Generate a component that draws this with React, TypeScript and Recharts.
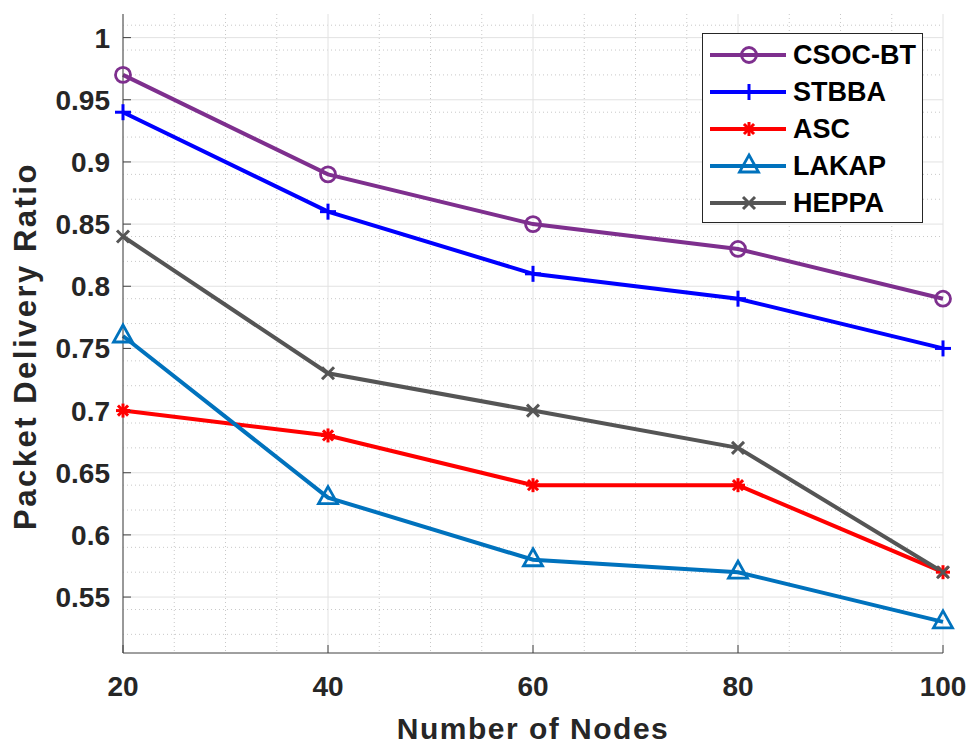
import React from "react";
import { LineChart, Line, XAxis, YAxis, CartesianGrid } from "recharts";

const nodes = [20, 40, 60, 80, 100];
const csocBt = [0.97, 0.89, 0.85, 0.83, 0.79];
const stbba = [0.94, 0.86, 0.81, 0.79, 0.75];
const asc = [0.7, 0.68, 0.64, 0.64, 0.57];
const lakap = [0.76, 0.63, 0.58, 0.57, 0.53];
const heppa = [0.84, 0.73, 0.7, 0.67, 0.57];

const xTicks = [20, 40, 60, 80, 100];
const yTicks = [0.55, 0.6, 0.65, 0.7, 0.75, 0.8, 0.85, 0.9, 0.95, 1];
const xMinor = [25, 30, 35, 45, 50, 55, 65, 70, 75, 85, 90, 95];
const yMinor = [
  0.51, 0.52, 0.53, 0.54, 0.56, 0.57, 0.58, 0.59, 0.61, 0.62, 0.63, 0.64,
  0.66, 0.67, 0.68, 0.69, 0.71, 0.72, 0.73, 0.74, 0.76, 0.77, 0.78, 0.79,
  0.81, 0.82, 0.83, 0.84, 0.86, 0.87, 0.88, 0.89, 0.91, 0.92, 0.93, 0.94,
  0.96, 0.97, 0.98, 0.99, 1.01,
];

const series = [
  { key: "csoc", name: "CSOC-BT", values: csocBt, color: "#7E2F8E", shape: "circle" },
  { key: "stbba", name: "STBBA", values: stbba, color: "#0000FF", shape: "plus" },
  { key: "asc", name: "ASC", values: asc, color: "#FF0000", shape: "star" },
  { key: "lakap", name: "LAKAP", values: lakap, color: "#0072BD", shape: "triangle" },
  { key: "heppa", name: "HEPPA", values: heppa, color: "#555555", shape: "cross" },
];

const data = nodes.map((n, i) => {
  const row: Record<string, number> = { n };
  series.forEach((s) => (row[s.key] = s.values[i]));
  return row;
});

const font = "'Liberation Sans', Arial, Helvetica, sans-serif";
const axisColor = "#404040";
const tickStyle = { fontSize: 28, fontWeight: 700, fill: "#262626", fontFamily: font };

function Marker({ cx, cy, color, shape }: { cx: number; cy: number; color: string; shape: string }) {
  const sw = 2.8;
  if (shape === "circle") {
    return <circle cx={cx} cy={cy} r={7.5} fill="none" stroke={color} strokeWidth={sw} />;
  }
  if (shape === "plus") {
    const s = 8;
    return (
      <g stroke={color} strokeWidth={3}>
        <line x1={cx - s} y1={cy} x2={cx + s} y2={cy} />
        <line x1={cx} y1={cy - s} x2={cx} y2={cy + s} />
      </g>
    );
  }
  if (shape === "star") {
    const s = 7;
    const d = s * 0.72;
    return (
      <g stroke={color} strokeWidth={3}>
        <line x1={cx - s} y1={cy} x2={cx + s} y2={cy} />
        <line x1={cx} y1={cy - s} x2={cx} y2={cy + s} />
        <line x1={cx - d} y1={cy - d} x2={cx + d} y2={cy + d} />
        <line x1={cx - d} y1={cy + d} x2={cx + d} y2={cy - d} />
      </g>
    );
  }
  if (shape === "triangle") {
    return (
      <polygon
        points={`${cx},${cy - 11} ${cx + 9.5},${cy + 6} ${cx - 9.5},${cy + 6}`}
        fill="none"
        stroke={color}
        strokeWidth={sw}
      />
    );
  }
  const s = 6;
  return (
    <g stroke={color} strokeWidth={3}>
      <line x1={cx - s} y1={cy - s} x2={cx + s} y2={cy + s} />
      <line x1={cx - s} y1={cy + s} x2={cx + s} y2={cy - s} />
    </g>
  );
}

function LegendBox() {
  return (
    <div
      style={{
        position: "absolute",
        left: 702,
        top: 33,
        width: 221,
        height: 190,
        border: "1px solid #262626",
        background: "#fff",
        boxSizing: "border-box",
        paddingTop: 2,
      }}
    >
      {series.map((s) => (
        <div key={s.key} style={{ display: "flex", alignItems: "center", height: 37 }}>
          <svg width={90} height={30} style={{ flex: "none" }}>
            <line x1={7} y1={15} x2={83} y2={15} stroke={s.color} strokeWidth={4} />
            <Marker cx={46} cy={15} color={s.color} shape={s.shape} />
          </svg>
          <span style={{ fontFamily: font, fontWeight: 700, fontSize: 27, color: "#000", lineHeight: "30px" }}>
            {s.name}
          </span>
        </div>
      ))}
    </div>
  );
}

export default function App() {
  return (
    <div style={{ position: "absolute", left: 0, top: 0, width: 969, height: 743, background: "#fff" }}>
      <LineChart width={969} height={743} data={data} margin={{ top: 14, right: 26, left: 0, bottom: 0 }}>
        <CartesianGrid
          stroke="#c8c8c8"
          strokeDasharray="1 3"
          horizontalValues={yMinor}
          verticalValues={xMinor}
        />
        <CartesianGrid stroke="#e2e2e2" horizontalValues={yTicks} verticalValues={xTicks} />
        <XAxis
          dataKey="n"
          type="number"
          domain={[20, 100]}
          ticks={xTicks}
          stroke={axisColor}
          tickSize={-8}
          tickMargin={31}
          tick={tickStyle}
          height={90}
          label={{
            content: (props: any) => {
              const vb = props.viewBox;
              return (
                <text
                  x={vb.x + vb.width / 2}
                  y={vb.y + 75}
                  textAnchor="middle"
                  dominantBaseline="central"
                  letterSpacing={1.5}
                  style={{ fontSize: 30, fontWeight: 700, fill: "#262626", fontFamily: font }}
                >
                  Number of Nodes
                </text>
              );
            },
          }}
        />
        <XAxis
          xAxisId="top"
          orientation="top"
          dataKey="n"
          type="number"
          domain={[20, 100]}
          ticks={xTicks}
          stroke={axisColor}
          tickSize={-8}
          tick={false}
          height={0}
        />
        <YAxis
          type="number"
          domain={[0.505, 1.019]}
          ticks={yTicks}
          stroke={axisColor}
          tickSize={-8}
          tickMargin={21}
          tick={tickStyle}
          width={123}
          allowDataOverflow
          label={{
            content: () => {
              const cx = 25;
              const cy = 346;
              return (
                <text
                  x={cx}
                  y={cy}
                  transform={`rotate(-90 ${cx} ${cy})`}
                  textAnchor="middle"
                  dominantBaseline="central"
                  letterSpacing={2.5}
                  style={{ fontSize: 31, fontWeight: 700, fill: "#262626", fontFamily: font }}
                >
                  Packet Delivery Ratio
                </text>
              );
            },
          }}
        />
        <YAxis
          yAxisId="right"
          orientation="right"
          type="number"
          domain={[0.505, 1.019]}
          ticks={yTicks}
          stroke={axisColor}
          tickSize={-8}
          tick={false}
          width={0}
          allowDataOverflow
        />
        {series.map((s) => (
          <Line
            key={s.key}
            dataKey={s.key}
            name={s.name}
            stroke={s.color}
            strokeWidth={4}
            isAnimationActive={false}
            dot={(p: any) => (
              <Marker key={`${s.key}-${p.index}`} cx={p.cx} cy={p.cy} color={s.color} shape={s.shape} />
            )}
          />
        ))}
      </LineChart>
      <LegendBox />
    </div>
  );
}
